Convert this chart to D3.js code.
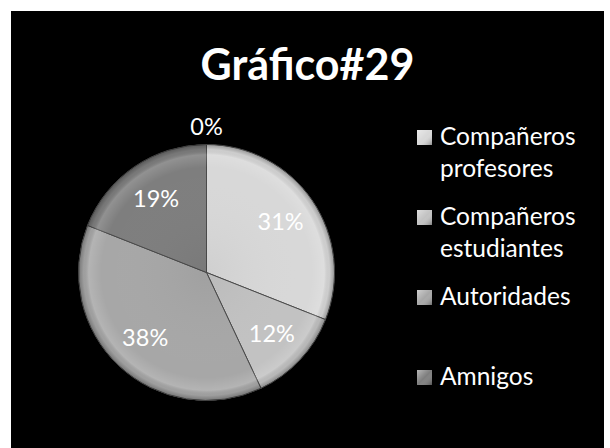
<!DOCTYPE html>
<html>
  <head>
    <meta charset="utf-8">
    <title>Gráfico#29</title>
    <script src="https://d3js.org/d3.v7.min.js"></script>
    <style>
      body { margin: 0; background: #fff; }
      text { font-family: Lato, "Open Sans", sans-serif; fill: #fff; }
    </style>
  </head>
  <body>
  <script>
  // data
    var categories = ["Compañeros profesores", "Compañeros estudiantes", "Autoridades", "Amnigos", ""];
    var values = [31, 12, 38, 19, 0];
    var shades = ["#d8d8d8", "#c2c2c2", "#a7a7a7", "#7e7e7e", "#5a5a5a"];
    var title = "Gráfico#29";

  // basic setting
    var width = 610, height = 448;
    var cx = 206.5, cy = 272.5, radius = 128;

    var svg = d3.select("body").append("svg")
        .attr("width", width)
        .attr("height", height);

    svg.append("rect")
        .attr("x", 11).attr("y", 11)
        .attr("width", 593).attr("height", height - 11)
        .attr("fill", "#000");

    var defs = svg.append("defs");
    var rim = defs.append("radialGradient").attr("id", "rim")
        .attr("gradientUnits", "userSpaceOnUse")
        .attr("cx", cx).attr("cy", cy).attr("r", radius);
    rim.append("stop").attr("offset", "0%").attr("stop-color", "#000").attr("stop-opacity", 0.04);
    rim.append("stop").attr("offset", "82%").attr("stop-color", "#fff").attr("stop-opacity", 0);
    rim.append("stop").attr("offset", "92%").attr("stop-color", "#fff").attr("stop-opacity", 0.15);
    rim.append("stop").attr("offset", "96%").attr("stop-color", "#000").attr("stop-opacity", 0.05);
    rim.append("stop").attr("offset", "100%").attr("stop-color", "#000").attr("stop-opacity", 0.3);

    var mark = defs.append("linearGradient").attr("id", "mark")
        .attr("x1", 0).attr("y1", 0).attr("x2", 1).attr("y2", 1);
    mark.append("stop").attr("offset", "0%").attr("stop-color", "#fff").attr("stop-opacity", 0.45);
    mark.append("stop").attr("offset", "50%").attr("stop-color", "#fff").attr("stop-opacity", 0);
    mark.append("stop").attr("offset", "100%").attr("stop-color", "#000").attr("stop-opacity", 0.35);

    var color = d3.scaleOrdinal().domain(categories).range(shades);

  // title
    svg.append("text")
        .attr("x", 307.5).attr("y", 80)
        .attr("text-anchor", "middle")
        .attr("font-size", 43)
        .attr("font-weight", "bold")
        .text(title);

  // pie
    var data = categories.map(function(c, i) { return {name: c, value: values[i]}; });
    var total = d3.sum(values);
    var pie = d3.pie().sort(null).value(function(d) { return d.value; });
    var arc = d3.arc().innerRadius(0).outerRadius(radius);
    var labelArc = d3.arc().innerRadius(radius * 0.7).outerRadius(radius * 0.7);
    var outArc = d3.arc().innerRadius(radius + 18).outerRadius(radius + 18);

    var g = svg.append("g").attr("transform", "translate(" + cx + "," + cy + ")");
    var arcs = pie(data);

    g.selectAll("path.slice")
      .data(arcs)
      .enter().append("path")
        .attr("class", "slice")
        .attr("d", arc)
        .attr("fill", function(d) { return color(d.data.name); })
        .attr("stroke", "#4a4a4a")
        .attr("stroke-width", 1);

    g.append("circle")
        .attr("r", radius)
        .attr("fill", "url(#rim)")
        .attr("transform", "translate(" + (-cx) + "," + (-cy) + ")")
        .attr("cx", cx).attr("cy", cy);

    g.selectAll("text.pct")
      .data(arcs)
      .enter().append("text")
        .attr("class", "pct")
        .attr("transform", function(d) {
          var p = d.data.value === 0 ? outArc.centroid(d) : labelArc.centroid(d);
          return "translate(" + p + ")";
        })
        .attr("dy", "0.35em")
        .attr("text-anchor", "middle")
        .attr("font-size", 23.5)
        .text(function(d) { return Math.round(d.data.value / total * 100) + "%"; });

  // legend
    var named = categories.filter(function(c) { return c !== ""; });
    var ly = d3.scalePoint().domain(named).range([145, 385]);
    var legend = svg.selectAll("g.legend")
      .data(named)
      .enter().append("g")
        .attr("class", "legend")
        .attr("transform", function(d) { return "translate(417," + ly(d) + ")"; });

    legend.append("rect")
        .attr("x", 0).attr("y", -15)
        .attr("width", 15).attr("height", 15)
        .attr("fill", function(d) { return color(d); });
    legend.append("rect")
        .attr("x", 0).attr("y", -15)
        .attr("width", 15).attr("height", 15)
        .attr("fill", "url(#mark)");

    legend.append("text")
        .attr("x", 23)
        .attr("font-size", 24.5)
        .each(function(d) {
          var t = d3.select(this);
          d.split(" ").forEach(function(w, i) {
            t.append("tspan").attr("x", 23).attr("dy", i === 0 ? 0 : 32).text(w);
          });
        });
  </script>
  </body>
</html>
